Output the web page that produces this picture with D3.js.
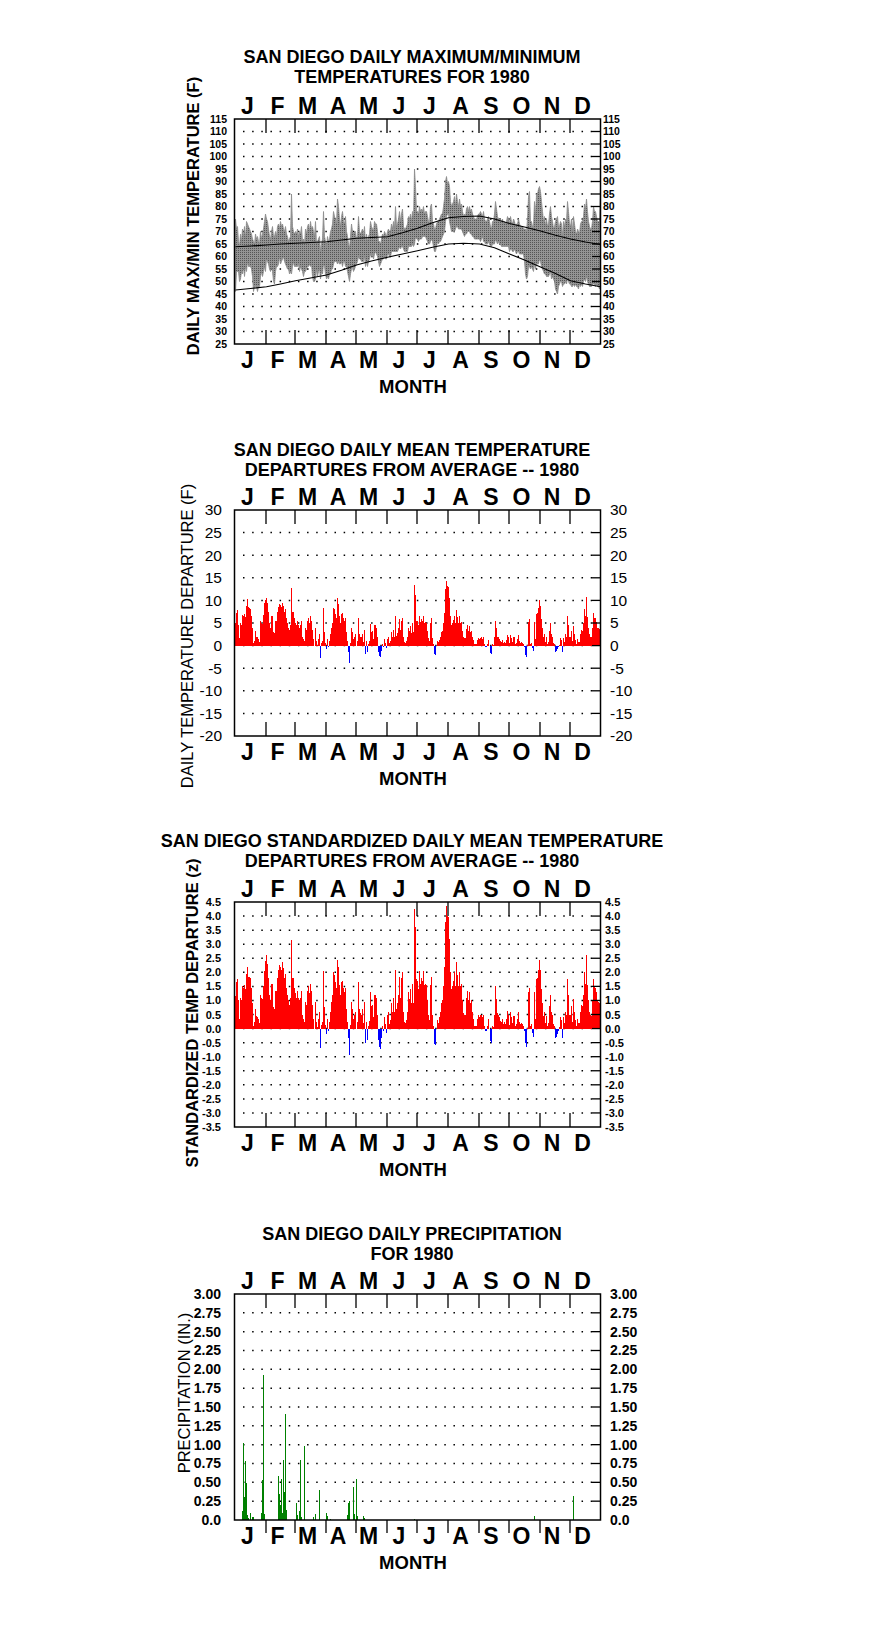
<!DOCTYPE html>
<html>
<head>
<meta charset="utf-8">
<script src="https://cdn.jsdelivr.net/npm/d3@7"></script>
<style>
  body { margin: 0; background: #fff; }
  svg { display: block; background: #fff; }
</style>
</head>
<body>
<svg id="chart" width="876" height="1634"></svg>
<script>
// ---- calendar (1980 is a leap year) ----
const monthLetters = ["J", "F", "M", "A", "M", "J", "J", "A", "S", "O", "N", "D"];
const monthDays = [31, 29, 31, 30, 31, 30, 31, 31, 30, 31, 30, 31];

const tmax = [
  75, 71, 72, 66, 64, 69, 66, 71, 68, 72, 67, 74, 73, 72, 71, 70, 69, 67, 66, 65, 69, 67, 68, 66, 65, 70, 67, 69, 71, 74, 77,
  75, 74, 71, 68, 67, 70, 72, 68, 68, 70, 68, 72, 73, 71, 74, 72, 73, 71, 70, 72, 69, 68, 66, 67, 68, 85, 72, 70, 69,
  70, 69, 71, 68, 70, 69, 72, 66, 67, 65, 71, 69, 72, 73, 70, 74, 71, 72, 70, 68, 74, 65, 66, 67, 68, 62, 65, 67, 78, 68, 66,
  64, 68, 66, 67, 70, 71, 73, 78, 76, 75, 73, 83, 80, 75, 72, 76, 78, 74, 73, 76, 70, 68, 65, 63, 68, 73, 70, 69, 70, 70,
  67, 68, 76, 70, 69, 70, 71, 68, 72, 65, 69, 66, 68, 69, 74, 72, 71, 70, 74, 73, 73, 70, 66, 66, 65, 67, 69, 68, 70, 69, 68,
  70, 71, 69, 70, 73, 71, 74, 71, 80, 72, 73, 75, 78, 74, 77, 79, 72, 71, 71, 72, 73, 76, 75, 77, 74, 78, 75, 95, 88, 78,
  78, 77, 80, 78, 79, 78, 80, 77, 78, 78, 76, 74, 73, 80, 81, 74, 73, 71, 71, 73, 74, 74, 75, 76, 77, 77, 80, 83, 90, 92, 89,
  90, 88, 82, 80, 81, 82, 84, 80, 85, 82, 80, 83, 80, 81, 78, 76, 77, 76, 79, 80, 78, 80, 78, 79, 77, 76, 75, 75, 75, 76, 77,
  77, 78, 77, 76, 78, 75, 74, 74, 75, 76, 74, 72, 71, 74, 74, 77, 82, 79, 76, 75, 75, 74, 74, 75, 73, 74, 73, 74, 76, 75,
  73, 76, 74, 73, 75, 74, 72, 73, 73, 75, 73, 72, 72, 72, 71, 71, 71, 70, 75, 84, 86, 74, 74, 72, 72, 82, 76, 85, 85, 87, 88,
  86, 82, 78, 74, 76, 72, 75, 72, 73, 77, 80, 76, 74, 71, 72, 74, 75, 76, 72, 72, 74, 73, 68, 74, 72, 75, 74, 82, 78, 73,
  72, 75, 70, 76, 73, 70, 69, 71, 70, 69, 73, 74, 74, 76, 81, 79, 83, 78, 74, 72, 71, 71, 74, 80, 78, 78, 76, 74, 74, 74, 87
];
const tmin = [
  46, 54, 54, 54, 50, 51, 54, 53, 56, 52, 56, 54, 58, 56, 56, 56, 55, 52, 46, 48, 48, 48, 46, 48, 48, 52, 54, 52, 54, 56, 54,
  59, 58, 57, 55, 54, 56, 54, 50, 49, 54, 56, 56, 57, 60, 57, 58, 59, 60, 58, 57, 56, 55, 55, 53, 54, 53, 56, 58, 56,
  56, 56, 56, 57, 54, 56, 55, 54, 52, 54, 54, 55, 56, 56, 57, 56, 57, 52, 50, 50, 51, 55, 52, 54, 55, 51, 54, 53, 57, 56, 53,
  51, 52, 51, 53, 53, 55, 55, 57, 58, 58, 58, 57, 58, 57, 57, 58, 56, 58, 58, 56, 56, 54, 52, 50, 53, 55, 56, 54, 55, 56,
  57, 58, 60, 59, 59, 58, 58, 58, 60, 56, 58, 56, 58, 59, 61, 60, 61, 59, 61, 62, 61, 60, 58, 56, 57, 58, 59, 59, 60, 59, 59,
  61, 61, 60, 60, 62, 62, 62, 62, 62, 62, 62, 63, 64, 63, 64, 64, 63, 62, 62, 62, 62, 64, 64, 64, 64, 65, 64, 65, 68, 67,
  67, 66, 67, 67, 67, 68, 68, 68, 68, 67, 66, 65, 65, 66, 67, 66, 64, 62, 62, 64, 66, 65, 66, 66, 67, 68, 69, 70, 74, 76, 77,
  77, 74, 72, 70, 70, 70, 70, 71, 72, 72, 71, 71, 71, 71, 70, 69, 68, 69, 69, 70, 70, 70, 69, 69, 68, 68, 67, 67, 67, 67, 67,
  67, 66, 67, 68, 66, 66, 65, 65, 65, 66, 65, 64, 64, 65, 65, 65, 67, 66, 65, 66, 65, 65, 64, 64, 64, 64, 64, 64, 64, 64,
  62, 63, 63, 62, 62, 63, 62, 61, 62, 62, 61, 61, 61, 61, 61, 58, 53, 51, 52, 56, 56, 55, 56, 55, 54, 57, 55, 57, 57, 57, 59,
  58, 56, 55, 54, 53, 53, 52, 52, 52, 53, 54, 51, 52, 51, 50, 47, 46, 45, 48, 49, 50, 50, 48, 49, 49, 50, 49, 51, 50, 49,
  49, 48, 48, 49, 48, 49, 48, 48, 47, 49, 48, 49, 48, 50, 51, 50, 52, 50, 49, 48, 48, 48, 49, 49, 49, 48, 49, 48, 48, 47, 52
];

// ---- normal max / min curves (day of year, F) ----
const normalDays = [0, 15, 31, 45, 60, 75, 91, 106, 121, 136, 152, 167, 182, 197, 213, 228, 244, 259, 274, 289, 305, 320, 335, 350, 365];
const normalMax = [63.9, 64.2, 64.6, 65.0, 65.3, 65.6, 65.9, 66.6, 67.3, 67.6, 67.9, 69.5, 71.3, 73.5, 75.5, 76.0, 76.2, 75.0, 73.2, 71.8, 70.2, 68.5, 67.0, 65.8, 64.8];
const normalMin = [46.6, 47.2, 47.9, 49.0, 50.3, 51.4, 52.6, 54.5, 56.6, 58.2, 59.7, 61.0, 62.3, 63.7, 65.0, 65.3, 65.0, 63.5, 61.0, 58.6, 55.8, 53.2, 50.3, 49.0, 47.9];

// ---- daily mean temperature departure (F) ----
const departF = [
  5.1, 7.3, 7.8, 4.5, 1.6, 5, 4.5, 6.8, 6.5, 7, 6.3, 8.8, 10.2, 8.5, 8.3, 8, 6.5, 4, 0.5, 1, 3.2, 2, 1.8, 1.5, 0.8, 5.5, 5, 4.8, 6.8, 9.5, 10,
  10.5, 9.5, 7.5, 5, 4, 6.5, 6.5, 3, 2.8, 5.5, 5.5, 7.5, 8.5, 9.2, 9, 8.5, 9.5, 8.8, 7.5, 8, 6, 5, 4, 3.5, 4.5, 12.7, 7.5, 7.5, 6,
  5, 4.5, 5.5, 4.5, 4, 4.5, 5.5, 2, 1.5, 1, 3.8, 3.5, 5.5, 6, 5, 6.5, 5.5, 3.5, 1.5, 0, 3.8, 1, 0.2, 1.5, 2.5, -2.7, 0.5, 1, 8.3, 3, 0.5,
  -0.8, 1.5, -0.3, 1, 2.5, 4, 5, 8.3, 8, 7, 6, 10.5, 9.3, 6.5, 5, 7, 7.2, 6, 5.5, 6, 3, 1, -1.5, -3.8, 0.5, 4, 3, 1.5, 2, 2.5,
  0, 1, 6, 2.5, 2, 1.8, 2.5, 0.8, 3.5, -1.8, 1, -1.5, 0.3, 1, 4.8, 3, 3.2, 1.5, 4.5, 4.5, 4, 1.8, -1.5, -2.3, -2.5, -1.2, 0.3, -0.3, 1.5, 0.5, -0.5,
  1.5, 2, 0.5, 1, 3, 2, 3.5, 2, 6.5, 2.2, 2.8, 3.8, 5.8, 3.5, 5.5, 6.2, 1.8, 0.8, 0.6, 1, 1.8, 4, 3.3, 4.3, 2.8, 5, 3, 13.3, 11.3, 5.5,
  5.5, 4.5, 6.5, 5.2, 5.8, 5.5, 6.5, 5, 5.2, 5, 3.3, 1.7, 1, 5, 6, 1.6, 0.3, -1.8, -2, 0, 1, 0.7, 1.3, 2, 3, 3.3, 5, 7.3, 12.5, 14.2, 13.2,
  13, 10.5, 6.6, 4.6, 5, 5.6, 6.6, 5, 7.8, 6.3, 5, 6.6, 5, 5.3, 3.3, 1.8, 1.7, 1.7, 3.6, 4.5, 3.3, 4.3, 3, 3.3, 2, 1.2, 0.3, 0.3, 0.3, 1.2, 1.7,
  1.5, 1.7, 1.8, 1.5, 1.8, 0.3, -0.3, -0.3, 0.3, 1.2, 0, -1.6, -1.9, 0.3, 0.2, 1.8, 5.5, 3.8, 2, 1.8, 1.5, 1, 0.8, 1.2, 0.6, 0.8, 0.6, 1.2, 2.3, 1.8,
  0.5, 2.3, 1.6, 0.8, 1.8, 1.8, 0.4, 0.6, 1.4, 2.4, 1, 0.6, 0.8, 0.6, 0.4, -0.4, -2, -2.6, 0.1, 5.2, 5.8, 0.4, 0.6, -0.6, -1.2, 5.2, 1.4, 7, 7.2, 8.4, 10,
  8.8, 5.8, 3.8, 1.8, 2.5, 0.8, 1.8, 0.4, 0.8, 3.3, 5, 2.5, 2, 0.6, 0.4, -1.5, -1.3, -0.8, -0.4, 0.2, 1.7, 1.2, -1.5, 1.6, 0.8, 2.5, 2, 6.5, 4.5, 2,
  2, 3.3, 1, 4.3, 2.5, 1.2, 0.4, 1.4, 0.8, 0.8, 2.5, 3.5, 3.3, 5, 8.2, 6.6, 10.7, 6.4, 4, 2.5, 2, 1.8, 4, 7.2, 6.2, 6, 5.3, 4, 3.9, 3.7, 13
];

// ---- standardized departure (z) ----
const departZ = [
  1.15, 1.65, 1.75, 1.0, 0.35, 1.1, 1.0, 1.5, 1.45, 1.55, 1.4, 1.95, 2.2, 1.85, 1.85, 1.8, 1.45, 0.9, 0.1, 0.25, 0.7, 0.45, 0.4, 0.35, 0.2, 1.2, 1.1, 1.05, 1.5, 2.05, 2.4,
  2.6, 2.3, 1.8, 1.2, 1.0, 1.6, 1.6, 0.75, 0.7, 1.35, 1.35, 1.8, 2.1, 2.25, 2.2, 2.1, 2.35, 2.15, 1.8, 1.95, 1.45, 1.2, 1.0, 0.85, 1.1, 3.15, 1.8, 1.8, 1.45,
  1.25, 1.1, 1.35, 1.1, 1.0, 1.1, 1.35, 0.5, 0.35, 0.25, 0.95, 0.85, 1.35, 1.5, 1.25, 1.6, 1.35, 0.85, 0.35, 0.0, 0.95, 0.25, 0.05, 0.35, 0.6, -0.68, 0.12, 0.25, 2.05, 0.75, 0.12,
  -0.2, 0.35, -0.08, 0.25, 0.6, 0.95, 1.2, 2.0, 1.9, 1.65, 1.45, 2.45, 2.2, 1.55, 1.2, 1.65, 1.7, 1.45, 1.3, 1.45, 0.7, 0.25, -0.35, -0.95, 0.12, 0.95, 0.7, 0.35, 0.5, 0.6,
  0.0, 0.25, 1.65, 0.7, 0.55, 0.5, 0.7, 0.2, 0.95, -0.5, 0.25, -0.42, 0.08, 0.28, 1.3, 0.8, 0.85, 0.4, 1.2, 1.2, 1.1, 0.5, -0.42, -0.65, -0.72, -0.35, 0.08, -0.08, 0.4, 0.15, -0.15,
  0.5, 0.6, 0.15, 0.3, 0.9, 0.6, 1.1, 0.6, 2.1, 0.7, 0.9, 1.2, 1.85, 1.1, 1.8, 2.0, 0.6, 0.25, 0.2, 0.3, 0.6, 1.3, 1.05, 1.4, 0.9, 1.6, 0.9, 4.25, 3.6, 1.75,
  1.7, 1.4, 2.05, 1.6, 1.8, 1.7, 2.05, 1.55, 1.6, 1.55, 1.0, 0.5, 0.3, 1.55, 1.85, 0.5, 0.1, -0.55, -0.6, 0.0, 0.3, 0.2, 0.4, 0.6, 0.9, 1.0, 1.5, 2.2, 3.8, 4.35, 4.0,
  3.95, 3.2, 2.0, 1.4, 1.5, 1.7, 2.0, 1.5, 2.35, 1.9, 1.5, 2.0, 1.5, 1.6, 1.0, 0.55, 0.5, 0.5, 1.1, 1.35, 1.0, 1.3, 0.9, 1.0, 0.6, 0.35, 0.1, 0.1, 0.1, 0.35, 0.5,
  0.42, 0.47, 0.5, 0.42, 0.5, 0.08, -0.08, -0.08, 0.08, 0.33, 0.0, -0.45, -0.53, 0.08, 0.05, 0.5, 1.5, 1.05, 0.55, 0.5, 0.42, 0.28, 0.22, 0.33, 0.17, 0.22, 0.17, 0.33, 0.64, 0.5,
  0.12, 0.58, 0.4, 0.2, 0.45, 0.45, 0.1, 0.15, 0.35, 0.6, 0.25, 0.15, 0.2, 0.15, 0.1, -0.1, -0.5, -0.65, 0.03, 1.3, 1.45, 0.1, 0.15, -0.15, -0.3, 1.3, 0.35, 1.75, 1.8, 2.1, 2.45,
  2.1, 1.4, 0.9, 0.45, 0.6, 0.2, 0.45, 0.1, 0.2, 0.8, 1.2, 0.6, 0.5, 0.15, 0.1, -0.35, -0.3, -0.2, -0.1, 0.05, 0.4, 0.3, -0.35, 0.4, 0.2, 0.6, 0.5, 1.75, 1.2, 0.5,
  0.5, 0.8, 0.25, 1.05, 0.6, 0.3, 0.1, 0.35, 0.2, 0.2, 0.6, 0.85, 0.8, 1.2, 2.0, 1.6, 2.6, 1.55, 1.0, 0.6, 0.5, 0.45, 1.0, 1.75, 1.5, 1.45, 1.3, 1.0, 0.95, 0.9, 2.95
];

// ---- daily precipitation (inches), only days with rain ----
const precipDays = [7, 8, 9, 10, 11, 12, 13, 15, 17, 18, 26, 27, 28, 29, 43, 44, 45, 46, 47, 48, 49, 50, 51, 61, 62, 64, 65, 66, 69, 78,
  80, 84, 91, 92, 95, 112, 113, 114, 118, 119, 121, 122, 128, 129, 179, 299, 338];
const precipInches = [0.12, 1.02, 0.31, 0.78, 0.49, 0.07, 0.03, 0.09, 0.04, 0.04, 0.09, 0.53, 1.92, 0.08, 0.58, 0.35, 0.20, 0.55, 0.09, 0.80,
  0.37, 1.41, 0.13, 0.22, 0.07, 0.12, 0.80, 0.04, 0.98, 0.04, 0.08, 0.40, 0.09, 0.05, 0.01, 0.07, 0.22, 0.25, 0.44, 0.08,
  0.54, 0.05, 0.05, 0.02, 0.01, 0.05, 0.32];

// ---- axis tick labels ----
const tempTicks = [115, 110, 105, 100, 95, 90, 85, 80, 75, 70, 65, 60, 55, 50, 45, 40, 35, 30, 25];
const departTicks = [30, 25, 20, 15, 10, 5, 0, -5, -10, -15, -20];
const zTicks = [4.5, 4.0, 3.5, 3.0, 2.5, 2.0, 1.5, 1.0, 0.5, 0.0, -0.5, -1.0, -1.5, -2.0, -2.5, -3.0, -3.5];
const precipTicks = [3.0, 2.75, 2.5, 2.25, 2.0, 1.75, 1.5, 1.25, 1.0, 0.75, 0.5, 0.25, 0.0];

const FONT = "'Liberation Sans', Arial, Helvetica, sans-serif";
const svg = d3.select("#chart");

// one pixel per day
const x = d3.scaleLinear().domain([0, 366]).range([235, 601]);
const monthStart = Array.from(d3.cumsum([0].concat(monthDays.slice(0, 11))));
const monthMid = monthDays.map((n, i) => monthStart[i] + n / 2 - 3.5);

// stipple used inside the max/min band
const pat = svg.append("defs").append("pattern")
  .attr("id", "stip").attr("width", 2).attr("height", 2)
  .attr("patternUnits", "userSpaceOnUse");
pat.append("rect").attr("width", 2).attr("height", 2).attr("fill", "#949494");
pat.append("rect").attr("width", 1).attr("height", 1).attr("fill", "#555");

// draws frame, dotted grid, ticks, labels and titles; returns y scale + mark layer
function panel(cfg) {
  const y = d3.scaleLinear().domain(cfg.domain).range([cfg.bottom, cfg.top]);
  const g = svg.append("g").attr("font-family", FONT);
  const grid = g.append("g");
  const marks = g.append("g");
  const frame = g.append("g");

  g.selectAll("text.title").data(cfg.title).enter().append("text")
    .attr("class", "title")
    .attr("x", 412).attr("y", (d, i) => cfg.titleY + i * 20)
    .attr("text-anchor", "middle").attr("font-size", 18).attr("font-weight", "bold")
    .text(d => d);

  // dotted horizontal grid
  grid.selectAll("line").data(cfg.grid).enter().append("line")
    .attr("x1", 243).attr("x2", 592)
    .attr("y1", d => y(d)).attr("y2", d => y(d))
    .attr("stroke", "#000").attr("stroke-width", 1.5)
    .attr("stroke-dasharray", "1.5 7.65");

  // short dashes inside the right border
  frame.selectAll("line.rt").data(cfg.grid).enter().append("line")
    .attr("class", "rt")
    .attr("x1", 592).attr("x2", 600.5)
    .attr("y1", d => y(d)).attr("y2", d => y(d))
    .attr("stroke", "#000").attr("stroke-width", 1.3);

  frame.append("rect")
    .attr("x", 234.5).attr("y", cfg.top)
    .attr("width", 366).attr("height", cfg.bottom - cfg.top)
    .attr("fill", "none").attr("stroke", "#000").attr("stroke-width", 1.5);

  // month boundary ticks
  const inner = monthStart.slice(1);
  frame.selectAll("line.mt").data(inner).enter().append("line")
    .attr("class", "mt")
    .attr("x1", d => x(d)).attr("x2", d => x(d))
    .attr("y1", cfg.top).attr("y2", cfg.top + 14)
    .attr("stroke", "#000").attr("stroke-width", 1.3);
  const b0 = cfg.bottom, b1 = cfg.ticksOut ? cfg.bottom + 13 : cfg.bottom - 14;
  frame.selectAll("line.mb").data(inner).enter().append("line")
    .attr("class", "mb")
    .attr("x1", d => x(d)).attr("x2", d => x(d))
    .attr("y1", b0).attr("y2", b1)
    .attr("stroke", "#000").attr("stroke-width", 1.3);

  // value labels, both sides
  const left = d3.axisLeft(y).tickValues(cfg.ticks).tickSize(0).tickPadding(0).tickFormat(cfg.format);
  const right = d3.axisRight(y).tickValues(cfg.ticks).tickSize(0).tickPadding(0).tickFormat(cfg.format);
  [[left, cfg.leftX], [right, cfg.rightX]].forEach(([ax, xx]) => {
    frame.append("g").attr("transform", `translate(${xx},0)`).call(ax)
      .call(a => a.select(".domain").remove())
      .attr("font-family", FONT).attr("font-size", cfg.tickFont)
      .attr("font-weight", cfg.tickBold ? "bold" : "normal");
  });

  // month letters above and below
  const months = d3.axisTop(x).tickValues(monthMid).tickSize(0).tickPadding(0)
    .tickFormat((d, i) => monthLetters[i]);
  [cfg.top - 5, cfg.bottom + 24].forEach(yy => {
    frame.append("g").attr("transform", `translate(0,${yy})`).call(months)
      .call(a => a.select(".domain").remove())
      .attr("font-family", FONT).attr("font-size", 23).attr("font-weight", "bold");
  });

  g.append("text")
    .attr("x", 413).attr("y", cfg.bottom + 49)
    .attr("text-anchor", "middle").attr("font-size", 18.5).attr("font-weight", "bold")
    .text("MONTH");

  g.append("text")
    .attr("transform", `translate(${cfg.ytitleX},${cfg.ytitleY}) rotate(-90)`)
    .attr("text-anchor", "middle").attr("dy", "0.36em")
    .attr("font-size", 16.5).attr("font-weight", cfg.ytitleBold ? "bold" : "normal")
    .text(cfg.ytitle);

  return { y, marks };
}

// plain hyphen for negatives, as on the original
const intLabel = d => String(d);
const oneDecimal = d => d.toFixed(1);

// ---------- panel 1: max/min ----------
const p1 = panel({
  top: 119, bottom: 344, domain: [25, 115],
  ticks: tempTicks, grid: tempTicks.slice(1, -1), format: intLabel,
  tickFont: 10.5, tickBold: true, leftX: 227, rightX: 603,
  title: ["SAN DIEGO DAILY MAXIMUM/MINIMUM", "TEMPERATURES FOR 1980"], titleY: 63,
  ytitle: "DAILY MAX/MIN TEMPERATURE (F)", ytitleX: 193, ytitleY: 216, ytitleBold: true
});
const band = d3.area()
  .x((d, i) => x(i + 0.5))
  .y0((d, i) => p1.y(tmin[i]))
  .y1(d => p1.y(d));
p1.marks.append("path").datum(tmax).attr("d", band)
  .attr("fill", "url(#stip)").attr("stroke", "#8a8a8a").attr("stroke-width", 0.8);
[normalMax, normalMin].forEach(series => {
  const line = d3.line().x((d, i) => x(normalDays[i] + 0.5)).y(d => p1.y(d));
  p1.marks.append("path").datum(series).attr("d", line)
    .attr("fill", "none").attr("stroke", "#000").attr("stroke-width", 1.2);
});

// ---------- departure bars helper ----------
function drawBars(p, values) {
  p.marks.selectAll("rect").data(values).enter().append("rect")
    .attr("x", (d, i) => x(i)).attr("width", 1)
    .attr("y", d => Math.min(p.y(d), p.y(0)))
    .attr("height", d => Math.abs(p.y(d) - p.y(0)))
    .attr("fill", d => d >= 0 ? "#ff0000" : "#0000ff")
    .attr("shape-rendering", "crispEdges");
}

// ---------- panel 2: departure (F) ----------
const p2 = panel({
  top: 510, bottom: 736, domain: [-20, 30],
  ticks: departTicks, grid: departTicks.slice(1, -1), format: intLabel,
  tickFont: 15.5, tickBold: false, leftX: 222, rightX: 610,
  title: ["SAN DIEGO DAILY MEAN TEMPERATURE", "DEPARTURES FROM AVERAGE -- 1980"], titleY: 455.5,
  ytitle: "DAILY TEMPERATURE DEPARTURE (F)", ytitleX: 187, ytitleY: 636, ytitleBold: false
});
drawBars(p2, departF);

// ---------- panel 3: standardized (z) ----------
const p3 = panel({
  top: 902, bottom: 1127, domain: [-3.5, 4.5],
  ticks: zTicks, grid: zTicks.slice(1, -1), format: oneDecimal,
  tickFont: 11, tickBold: true, leftX: 221, rightX: 605,
  title: ["SAN DIEGO STANDARDIZED DAILY MEAN TEMPERATURE", "DEPARTURES FROM AVERAGE -- 1980"], titleY: 847,
  ytitle: "STANDARDIZED TEMP DEPARTURE (z)", ytitleX: 192, ytitleY: 1013, ytitleBold: true
});
drawBars(p3, departZ);

// ---------- panel 4: precipitation ----------
const p4 = panel({
  top: 1294, bottom: 1520, domain: [0, 3],
  ticks: precipTicks, grid: precipTicks.slice(1, -1),
  format: d => d === 0 ? "0.0" : d.toFixed(2),
  tickFont: 14, tickBold: true, leftX: 221, rightX: 610, ticksOut: true,
  title: ["SAN DIEGO DAILY PRECIPITATION", "FOR 1980"], titleY: 1240,
  ytitle: "PRECIPITATION (IN.)", ytitleX: 184, ytitleY: 1393, ytitleBold: false
});
p4.marks.selectAll("rect").data(precipInches).enter().append("rect")
  .attr("x", (d, i) => x(precipDays[i])).attr("width", 1)
  .attr("y", d => p4.y(d)).attr("height", d => p4.y(0) - p4.y(d))
  .attr("fill", "#008000").attr("shape-rendering", "crispEdges");
</script>
</body>
</html>
